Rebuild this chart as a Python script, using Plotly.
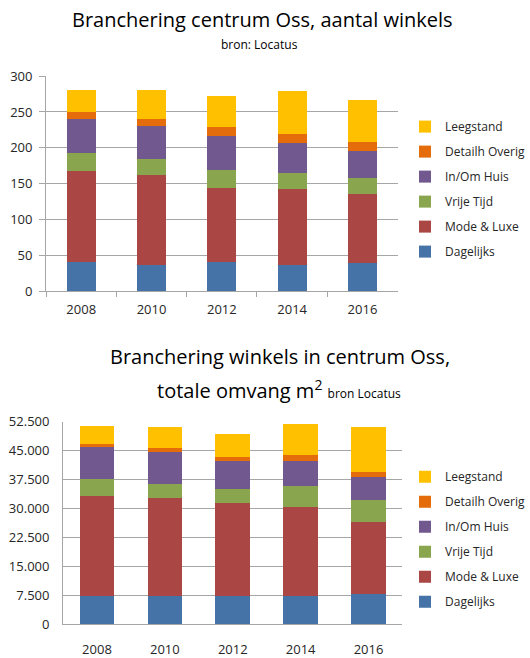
import plotly.graph_objects as go

years = ["2008", "2010", "2012", "2014", "2016"]
series_names = ["Dagelijks", "Mode & Luxe", "Vrije Tijd", "In/Om Huis", "Detailh Overig", "Leegstand"]
colors = ["#4572A7", "#AA4643", "#89A54E", "#71588F", "#E46C0A", "#FFC000"]

# Chart 1: aantal winkels
dagelijks_n = [40, 36, 40, 37, 39]
mode_n = [128, 126, 104, 106, 97]
vrije_n = [25, 22, 25, 22, 22]
inom_n = [47, 46, 48, 42, 37]
detail_n = [10, 10, 12, 12, 13]
leeg_n = [30, 41, 43, 60, 59]

# Chart 2: totale omvang m2
dagelijks_m = [7150, 7150, 7300, 7300, 7800]
mode_m = [26150, 25500, 24100, 23150, 18600]
vrije_m = [4300, 3700, 3700, 5400, 5750]
inom_m = [8250, 8350, 7200, 6500, 6050]
detail_m = [750, 900, 950, 1450, 1200]
leeg_m = [4800, 5450, 6050, 8000, 11850]

y1_ticks = [0, 50, 100, 150, 200, 250, 300]
y2_ticks = [0, 7500, 15000, 22500, 30000, 37500, 45000, 52500]

W, H = 530, 658
FONT = "Open Sans"
TXT = "#262626"
GRID = "#a6a6a6"

fig = go.Figure()
n_series = len(series_names)
for i, (name, col, vals) in enumerate(zip(series_names, colors,
                           [dagelijks_n, mode_n, vrije_n, inom_n, detail_n, leeg_n])):
    fig.add_trace(go.Bar(x=years, y=vals, name=name, marker_color=col,
                         marker_line_width=0, xaxis="x", yaxis="y",
                         legend="legend", legendgroup="a" + name,
                         legendrank=n_series - i, width=0.41))
for i, (name, col, vals) in enumerate(zip(series_names, colors,
                           [dagelijks_m, mode_m, vrije_m, inom_m, detail_m, leeg_m])):
    fig.add_trace(go.Bar(x=years, y=vals, name=name, marker_color=col,
                         marker_line_width=0, xaxis="x2", yaxis="y2",
                         legend="legend2", legendgroup="b" + name,
                         legendrank=n_series - i, width=0.51))

def px_x(v):
    return v / W

def px_y(v):
    return (H - v) / H

fig.update_layout(
    width=W, height=H,
    margin=dict(l=0, r=0, t=0, b=0),
    paper_bgcolor="white", plot_bgcolor="white",
    barmode="stack",
    separators=",.",
    font=dict(family=FONT, size=13, color=TXT),
    xaxis=dict(domain=[px_x(47.5), px_x(410)], anchor="y", type="category",
               showline=True, linecolor=GRID, linewidth=1,
               ticks="outside", tickson="boundaries", ticklen=5, tickcolor=GRID,
               showgrid=False, ticklabelstandoff=6, tickfont=dict(size=13, color=TXT)),
    yaxis=dict(domain=[px_y(290), px_y(69)], anchor="x", range=[0, 300],
               tickvals=y1_ticks, showline=True, linecolor=GRID, linewidth=1,
               ticks="outside", ticklen=6, tickcolor=GRID,
               showgrid=True, gridcolor=GRID, gridwidth=1, zeroline=False,
               ticklabelstandoff=4, tickfont=dict(size=13, color=TXT)),
    xaxis2=dict(domain=[px_x(65), px_x(415)], anchor="y2", type="category",
                showline=True, linecolor=GRID, linewidth=1, ticks="",
                showgrid=False, ticklabelstandoff=13, tickfont=dict(size=13, color=TXT)),
    yaxis2=dict(domain=[px_y(632.3), px_y(424.3)], anchor="x2", range=[0, 52500],
                tickvals=y2_ticks, tickformat=",d", showline=True, linecolor=GRID,
                linewidth=1, ticks="", showgrid=True, gridcolor=GRID, gridwidth=1,
                zeroline=False, ticklabelstandoff=10, tickfont=dict(size=13, color=TXT)),
    legend=dict(x=px_x(418), y=px_y(106), xanchor="left", yanchor="top",
                traceorder="grouped", tracegroupgap=6,
                font=dict(size=12, color=TXT), bgcolor="rgba(0,0,0,0)"),
    legend2=dict(x=px_x(418), y=px_y(466), xanchor="left", yanchor="top",
                 traceorder="grouped", tracegroupgap=6,
                 font=dict(size=12, color=TXT), bgcolor="rgba(0,0,0,0)"),
)

annotations = [
    dict(text="Branchering centrum Oss, aantal winkels", x=px_x(271), y=px_y(11),
         font=dict(size=20, color="#000000")),
    dict(text="bron: Locatus", x=px_x(268), y=px_y(37), font=dict(size=12, color="#000000")),
    dict(text="Branchering winkels in centrum Oss,", x=px_x(289), y=px_y(357),
         font=dict(size=20, color="#000000")),
    dict(text="totale omvang m<sup>2</sup> <span style='font-size:12px'>bron Locatus</span>",
         x=px_x(288), y=px_y(391), font=dict(size=20, color="#000000")),
]
for a in annotations:
    fig.add_annotation(xref="paper", yref="paper", showarrow=False,
                       xanchor="center", yanchor="middle", **a)

fig.write_html("out.html")
